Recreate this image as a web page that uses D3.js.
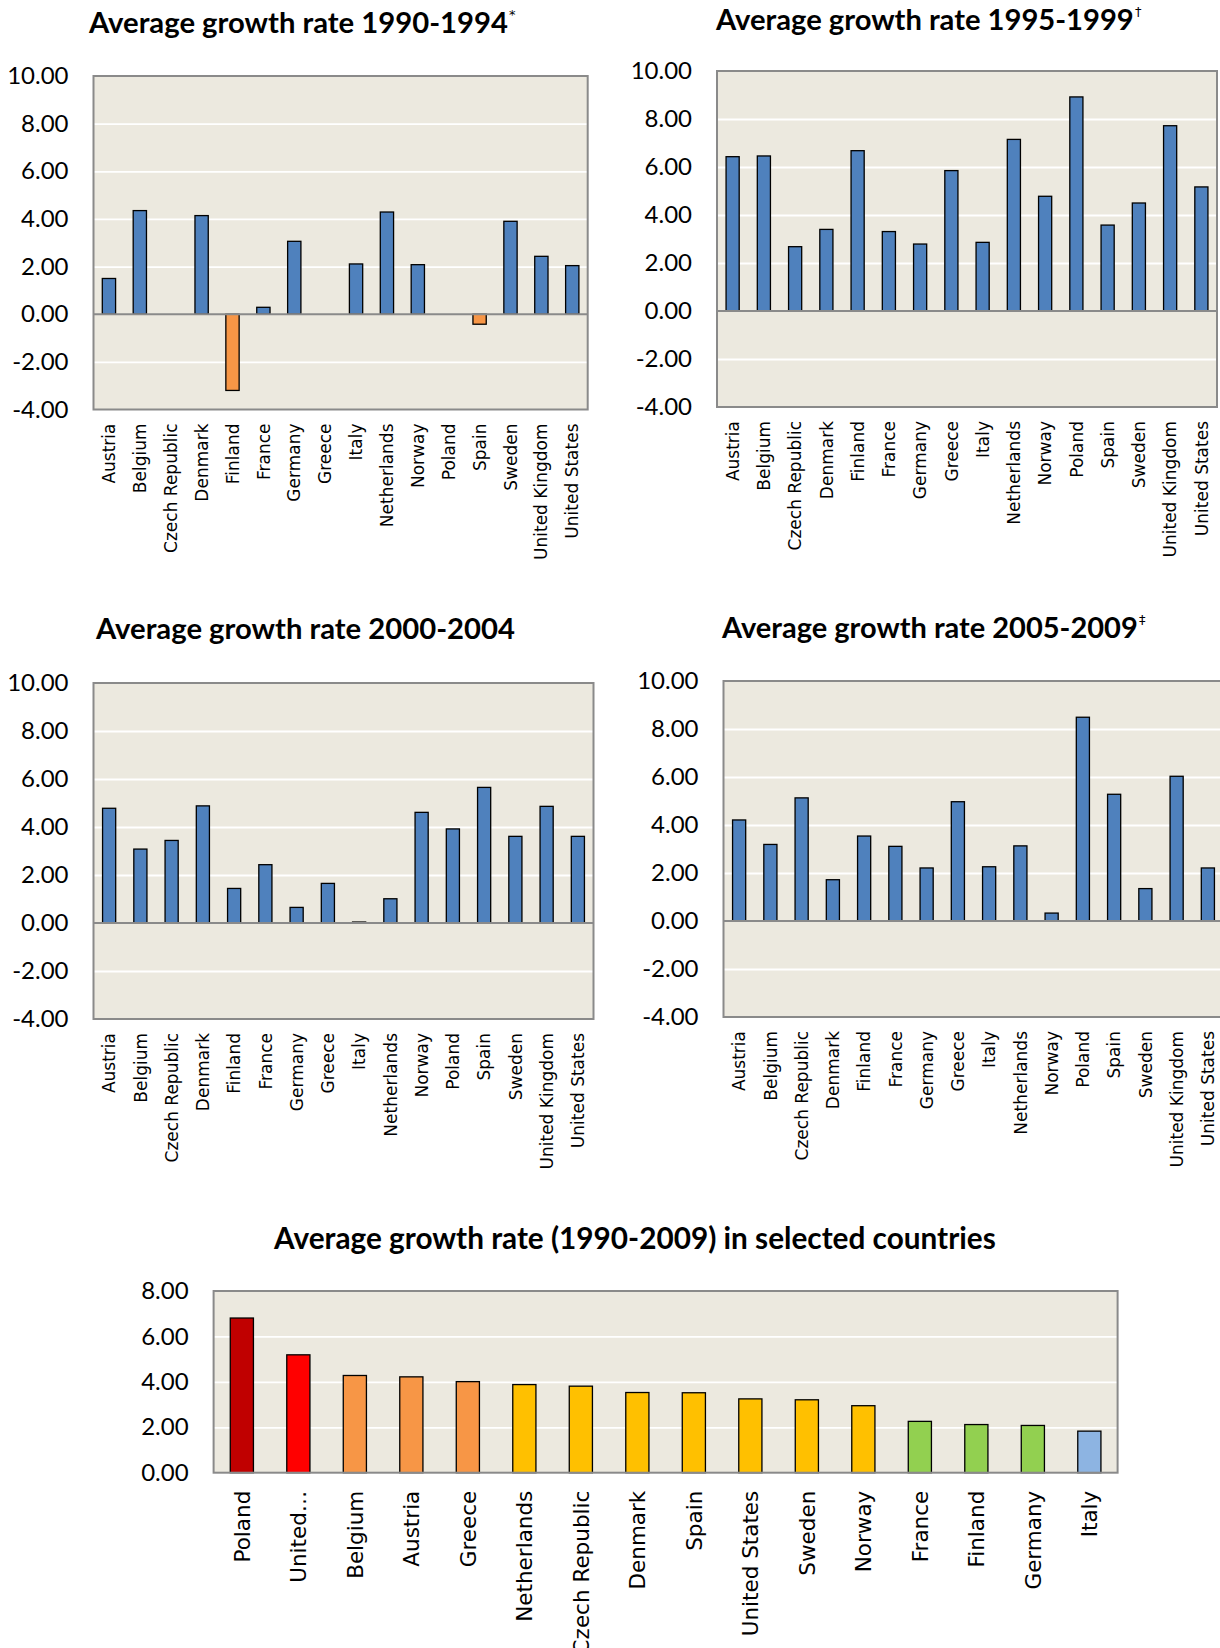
<!DOCTYPE html>
<html><head><meta charset="utf-8">
<script src="https://cdn.jsdelivr.net/npm/d3@7"></script>
<style>body{margin:0;background:#fff} svg{display:block}</style>
</head><body>
<svg id="c" width="1220" height="1648"></svg>
<script>
// ---------------- DATA ----------------
const countries = ["Austria","Belgium","Czech Republic","Denmark","Finland","France","Germany","Greece","Italy","Netherlands","Norway","Poland","Spain","Sweden","United Kingdom","United States"];
const growth1990_1994 = [1.50,4.35,null,4.14,-3.20,0.29,3.06,null,2.11,4.29,2.08,null,-0.42,3.90,2.43,2.04];
const growth1995_1999 = [6.43,6.46,2.68,3.40,6.68,3.31,2.79,5.85,2.86,7.15,4.78,8.92,3.58,4.50,7.72,5.17];
const growth2000_2004 = [4.78,3.08,3.44,4.88,1.44,2.43,0.65,1.65,0.04,1.01,4.61,3.92,5.65,3.61,4.86,3.61];
const growth2005_2009 = [4.21,3.19,5.13,1.72,3.54,3.11,2.21,4.97,2.26,3.13,0.33,8.49,5.28,1.35,6.03,2.21];
const periodTicks = [10,8,6,4,2,0,-2,-4];

const rankCountries = ["Poland","United Kingdom","Belgium","Austria","Greece","Netherlands","Czech Republic","Denmark","Spain","United States","Sweden","Norway","France","Finland","Germany","Italy"];
const rankLabels = ["Poland","United…","Belgium","Austria","Greece","Netherlands","Czech Republic","Denmark","Spain","United States","Sweden","Norway","France","Finland","Germany","Italy"];
const growth1990_2009 = [6.81,5.19,4.28,4.22,4.01,3.88,3.81,3.53,3.52,3.25,3.21,2.95,2.26,2.12,2.08,1.83];
const rankTier = [1,2,3,3,3,4,4,4,4,4,4,4,5,5,5,6];
const overallTicks = [8,6,4,2,0];

// ---------------- STYLE ----------------
const BG = "#ECE9DF", BORDER = "#8A8A8A", BLUE = "#4F81BD", ORANGE = "#F79646";
const tierColor = d3.scaleOrdinal().domain([1,2,3,4,5,6])
  .range(["#C00000","#FF0000","#F79646","#FFC000","#92D050","#8DB4E2"]);
const loc = d3.formatLocale({decimal:".",thousands:",",grouping:[3],currency:["$",""],minus:"-"});
const fmt = loc.format(".2f");
const svg = d3.select("#c");

function title(t, mark, x, baseline, width, size){
  const g = svg.append("g");
  const tx = g.append("text").attr("x",x).attr("y",baseline)
    .attr("font-family","Lato, 'Open Sans', sans-serif").attr("font-weight",700)
    .attr("font-size",size).attr("fill","#000").text(t);
  const w = tx.node().getComputedTextLength();
  const s = size*width/w;
  tx.attr("font-size",s);
  if(mark){
    g.append("text").attr("x",x+width+1).attr("y",baseline-14)
      .attr("font-family","'DejaVu Sans', sans-serif").attr("font-size",13).attr("fill","#000").text(mark);
  }
}

function chart(cfg){
  const {x0,x1,y0,y1,cats,labels,vals,domain,ticks,colorFn,labFont,labGap,barFrac} = cfg;
  const g = svg.append("g");
  const x = d3.scaleBand().domain(cats).range([x0,x1]).paddingInner(1-barFrac).paddingOuter((1-barFrac)/2);
  const y = d3.scaleLinear().domain(domain).range([y1,y0]);
  g.append("rect").attr("x",x0).attr("y",y0).attr("width",x1-x0).attr("height",y1-y0).attr("fill",BG);
  // grid
  const grid = g.append("g").attr("transform",`translate(${x0},0)`)
    .call(d3.axisLeft(y).tickValues(ticks.filter(t=>t!==domain[0]&&t!==domain[1]&&t!==0)).tickSize(-(x1-x0)).tickFormat(""));
  grid.select(".domain").remove();
  grid.selectAll("line").attr("stroke","#fff").attr("stroke-width",1.8);
  // bars
  const data = cats.map((c,i)=>({c,v:vals[i],i})).filter(d=>d.v!==null);
  g.selectAll("rect.bar").data(data).join("rect").attr("class","bar")
    .attr("x",d=>x(d.c)).attr("width",x.bandwidth())
    .attr("y",d=>y(Math.max(0,d.v))).attr("height",d=>Math.abs(y(d.v)-y(0)))
    .attr("fill",d=>colorFn(d)).attr("stroke","#000").attr("stroke-width",1.3);
  // zero line
  if(domain[0]<0){
    g.append("line").attr("x1",x0).attr("x2",x1).attr("y1",y(0)).attr("y2",y(0))
      .attr("stroke",BORDER).attr("stroke-width",2);
  }
  // border
  g.append("rect").attr("x",x0).attr("y",y0).attr("width",x1-x0).attr("height",y1-y0)
    .attr("fill","none").attr("stroke",BORDER).attr("stroke-width",2);
  // y axis labels
  const ya = g.append("g").attr("transform",`translate(${x0},0)`)
    .call(d3.axisLeft(y).tickValues(ticks).tickSize(0).tickPadding(25).tickFormat(fmt));
  ya.select(".domain").remove();
  ya.selectAll("text").attr("font-family","Lato, 'Open Sans', sans-serif").attr("font-size",cfg.tickFont||24).attr("fill","#000");
  // x axis labels
  const xa = g.append("g").attr("transform",`translate(0,${y1})`)
    .call(d3.axisBottom(x).tickSize(0).tickFormat((d,i)=>labels[i]));
  xa.select(".domain").remove();
  xa.selectAll("text").attr("transform","rotate(-90)").attr("x",-labGap).attr("y",0).attr("dy","0.36em")
    .attr("text-anchor","end").attr("font-family","'DejaVu Sans', sans-serif").attr("font-size",labFont).attr("fill","#000");
}

const periodColor = d=> d.v<0 ? ORANGE : BLUE;

chart({x0:93.5,x1:587.7,y0:76,y1:409.5,cats:countries,labels:countries,vals:growth1990_1994,domain:[-4,10],ticks:periodTicks,colorFn:periodColor,labFont:17,labGap:14,barFrac:0.43});
chart({x0:717,x1:1217,y0:71,y1:407,cats:countries,labels:countries,vals:growth1995_1999,domain:[-4,10],ticks:periodTicks,colorFn:periodColor,labFont:17,labGap:14,barFrac:0.42});
chart({x0:93.5,x1:593.5,y0:683,y1:1019,cats:countries,labels:countries,vals:growth2000_2004,domain:[-4,10],ticks:periodTicks,colorFn:periodColor,labFont:17,labGap:14,barFrac:0.42});
chart({x0:723.5,x1:1223.5,y0:681,y1:1017,cats:countries,labels:countries,vals:growth2005_2009,domain:[-4,10],ticks:periodTicks,colorFn:periodColor,labFont:17,labGap:14,barFrac:0.42});
chart({x0:213.6,x1:1117.6,y0:1291,y1:1472.7,cats:rankCountries,labels:rankLabels,vals:growth1990_2009,domain:[0,8],ticks:overallTicks,colorFn:d=>tierColor(rankTier[d.i]),labFont:21.5,labGap:18,barFrac:0.41,tickFont:24});

title("Average growth rate 1990-1994","*",89,33,419,28);
title("Average growth rate 1995-1999","†",716,30,418,28);
title("Average growth rate 2000-2004",null,96,639,419,28);
title("Average growth rate 2005-2009","‡",722,638,416,28);
title("Average growth rate (1990-2009) in selected countries",null,274,1249,722,28);
</script>
</body></html>
